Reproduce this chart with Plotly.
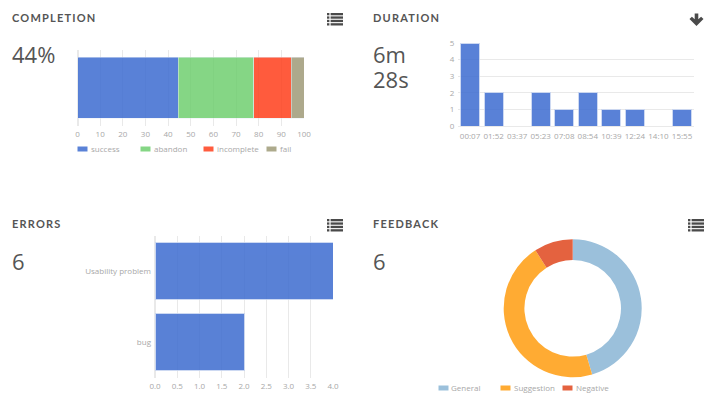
import plotly.graph_objects as go

W = 719
H = 408

completion_names = ["success", "abandon", "incomplete", "fail"]
completion_values = [44.4, 33.4, 16.6, 5.6]
completion_colors = ["#3d6cd0", "#70cf70", "#ff3f1c", "#9f9b78"]

duration_labels = ["00:07", "01:52", "03:37", "05:23", "07:08", "08:54", "10:39", "12:24", "14:10", "15:55"]
duration_counts = [5, 2, 0, 2, 1, 2, 1, 1, 0, 1]

error_names = ["Usability problem", "bug"]
error_counts = [4, 2]

feedback_names = ["General", "Suggestion", "Negative"]
feedback_counts = [5, 5, 1]
feedback_colors = ["#9bc0db", "#ffab33", "#e4623f"]

BLUE = "#3d6cd0"
TEXT = "#555555"
TICK = "#a8a8a8"
GRID = "#e9e9e9"
SANS = "Open Sans"


def px_x(x):
    return x / W


def px_y(y):
    return 1 - y / H


def axis(x0, x1, y0, y1):
    # pixel box to paper domains
    return [px_x(x0), px_x(x1)], [px_y(y1), px_y(y0)]


def text(fig, x, y, label, size, color=TEXT, family=SANS, anchor="left"):
    fig.add_annotation(
        x=px_x(x), y=px_y(y), xref="paper", yref="paper",
        text=label, showarrow=False, xanchor=anchor, yanchor="middle",
        font=dict(family=family, size=size, color=color),
        borderpad=0, borderwidth=0,
    )


def title(fig, x, y, label):
    text(fig, x, y, "<b>" + label + "</b>", 11, family="Lato")


def legend(fig, x, y, step, names, colors, opacity):
    # small flat swatches, spaced evenly
    for i in range(len(names)):
        left = x + i * step
        fig.add_shape(
            type="rect", xref="paper", yref="paper",
            x0=px_x(left), x1=px_x(left + 10), y0=px_y(y - 2.5), y1=px_y(y + 2.5),
            fillcolor=colors[i], opacity=opacity, line_width=0,
        )
        text(fig, left + 13, y - 0.5, names[i], 8, color=TICK)


def list_icon(fig, x, y):
    # four rows, a dot and a bar on each
    for row in range(4):
        top = y + row * 3.4
        for x0, x1 in [(x, x + 2.4), (x + 3.6, x + 16)]:
            fig.add_shape(
                type="rect", xref="paper", yref="paper",
                x0=px_x(x0), x1=px_x(x1), y0=px_y(top), y1=px_y(top + 2.3),
                fillcolor="#4a4a4a", line_width=0,
            )


def arrow_icon(fig, x, y):
    points = [(5.2, 0), (8.8, 0), (8.8, 5.8), (11.6, 3.2), (14, 5.6), (7, 12.4), (0, 5.6), (2.4, 3.2), (5.2, 5.8)]
    path = "M " + " L ".join(f"{px_x(x + a):.5f} {px_y(y + b):.5f}" for a, b in points) + " Z"
    fig.add_shape(type="path", xref="paper", yref="paper", path=path, fillcolor="#4a4a4a", line_width=0)


def main():
    fig = go.Figure()

    # completion
    for i in range(len(completion_names)):
        fig.add_trace(go.Bar(
            y=["completion"], x=[completion_values[i]], name=completion_names[i], orientation="h",
            marker=dict(color=completion_colors[i], opacity=0.85), xaxis="x", yaxis="y",
        ))

    # duration
    fig.add_trace(go.Bar(
        x=duration_labels, y=duration_counts,
        marker=dict(color=BLUE, opacity=0.85, line=dict(color="#c5d3f0", width=1)), xaxis="x2", yaxis="y2",
    ))

    # errors
    fig.add_trace(go.Bar(
        y=error_names, x=error_counts, orientation="h",
        marker=dict(color=BLUE, opacity=0.85, line=dict(color="#c5d3f0", width=1)), xaxis="x3", yaxis="y3",
    ))

    # feedback
    pie_x, pie_y = axis(503.7, 641.7, 239.3, 377.3)
    fig.add_trace(go.Pie(
        labels=feedback_names, values=feedback_counts, hole=0.7, sort=False, direction="clockwise",
        marker=dict(colors=feedback_colors, line=dict(width=0)), textinfo="none",
        domain=dict(x=pie_x, y=pie_y),
    ))

    tick_font = dict(family=SANS, size=8, color=TICK)
    x1_dom, y1_dom = axis(77.5, 304, 49.5, 126)
    x2_dom, y2_dom = axis(458.3, 693.8, 43, 126)
    x3_dom, y3_dom = axis(155, 333, 235.5, 377.5)

    fig.update_layout(
        width=W, height=H, margin=dict(l=0, r=0, t=0, b=0, autoexpand=False), showlegend=False,
        paper_bgcolor="white", plot_bgcolor="white", barmode="stack", bargap=0.2,
        xaxis=dict(domain=x1_dom, anchor="y", range=[0, 100], dtick=10, showgrid=True, gridcolor=GRID,
                   zeroline=True, zerolinecolor=GRID, tickfont=tick_font, ticks="", ticklabelstandoff=2),
        yaxis=dict(domain=y1_dom, anchor="x", showticklabels=False, showgrid=False, ticks=""),
        xaxis2=dict(domain=x2_dom, anchor="y2", type="category", showgrid=False, showline=True, linecolor=GRID,
                    tickfont=tick_font, ticks="", tickangle=0, ticklabelstandoff=2),
        yaxis2=dict(domain=y2_dom, anchor="x2", range=[0, 5], dtick=1, showgrid=True, gridcolor=GRID,
                    zeroline=False, tickfont=tick_font, ticks="", ticklabelstandoff=3),
        xaxis3=dict(domain=x3_dom, anchor="y3", range=[0, 4], dtick=0.5, tickformat=".1f", showgrid=True,
                    gridcolor=GRID, zeroline=True, zerolinecolor=GRID, tickfont=tick_font, ticks="",
                    ticklabelstandoff=2),
        yaxis3=dict(domain=y3_dom, anchor="x3", type="category", autorange="reversed", showgrid=False,
                    tickfont=tick_font, ticks="", ticklabelstandoff=3),
    )

    title(fig, 12, 18, "COMPLETION")
    title(fig, 373, 18, "DURATION")
    title(fig, 12, 223.5, "ERRORS")
    title(fig, 373, 223.5, "FEEDBACK")

    text(fig, 12, 54.5, "44%", 22)
    text(fig, 373, 54.5, "6m", 22)
    text(fig, 373, 78.5, "28s", 22)
    text(fig, 12, 260.5, "6", 22)
    text(fig, 373, 260.5, "6", 22)

    list_icon(fig, 327, 13)
    list_icon(fig, 327, 219)
    list_icon(fig, 688, 219)
    arrow_icon(fig, 689.5, 13.5)

    legend(fig, 77.5, 149, 63, completion_names, completion_colors, 0.85)
    legend(fig, 438.5, 388, 62, feedback_names, feedback_colors, 1)

    # no margin on the page, spaced capitals in the headings
    post = """
    document.body.style.margin = '0';
    document.querySelectorAll('.annotation-text').forEach(function (t) {
        var s = t.textContent;
        if (s === s.toUpperCase() && s.length > 4) {
            t.style.letterSpacing = '1.2px';
            t.style.transform = 'translateX(' + (s.length * 0.6) + 'px)';
        }
    });
    """
    fig.write_html("out.html", post_script=post, config={"displayModeBar": False})


if __name__ == '__main__':
    main()
